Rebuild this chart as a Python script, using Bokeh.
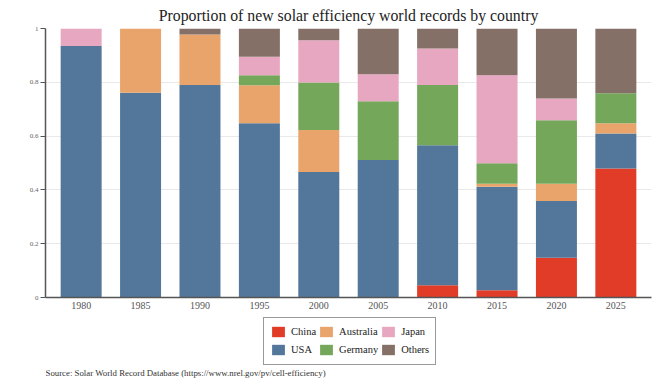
from bokeh.plotting import figure
from bokeh.layouts import column
from bokeh.models import (FactorRange, Legend, LegendItem, Label, FixedTicker,
                          NumeralTickFormatter, ColumnDataSource)
from bokeh.embed import file_html
from bokeh.resources import INLINE

years = ["1980", "1985", "1990", "1995", "2000", "2005", "2010", "2015", "2020", "2025"]
china     = [0.0,   0.0,   0.0,   0.0,   0.0,   0.0,   0.046, 0.027, 0.148, 0.480]
usa       = [0.935, 0.761, 0.790, 0.648, 0.467, 0.511, 0.520, 0.385, 0.211, 0.130]
australia = [0.0,   0.239, 0.188, 0.141, 0.156, 0.0,   0.0,   0.011, 0.064, 0.038]
germany   = [0.0,   0.0,   0.0,   0.037, 0.176, 0.219, 0.224, 0.076, 0.236, 0.111]
japan     = [0.065, 0.0,   0.0,   0.069, 0.157, 0.100, 0.136, 0.327, 0.081, 0.0]
others    = [0.0,   0.0,   0.022, 0.105, 0.044, 0.170, 0.074, 0.174, 0.260, 0.241]

series = ["China", "USA", "Australia", "Germany", "Japan", "Others"]
colors = ["#e03c28", "#53779b", "#e8a46a", "#74a75a", "#e7a7c1", "#857067"]
y_ticks = [0, 0.2, 0.4, 0.6, 0.8, 1.0]

title_text = "Proportion of new solar efficiency world records by country"
source_text = "Source: Solar World Record Database (https://www.nrel.gov/pv/cell-efficiency)"

SERIF = "Liberation Serif"

src = ColumnDataSource(dict(year=years, China=china, USA=usa, Australia=australia,
                            Germany=germany, Japan=japan, Others=others))

# ---------------- main chart ----------------
p = figure(width=664, height=314, output_backend="svg", toolbar_location=None,
           x_range=FactorRange(factors=years, range_padding=0.1, range_padding_units="absolute"),
           y_range=(0, 1),
           min_border_left=45, min_border_right=13, min_border_top=28, min_border_bottom=17)
p.outline_line_color = None

p.vbar_stack(series, x="year", width=0.69, color=colors, line_color=None, source=src)

p.title.text = title_text
p.title.text_font = SERIF
p.title.text_font_size = "15.8px"
p.title.text_font_style = "normal"
p.title.text_color = "#222222"
p.title.align = "center"
p.title.standoff = 9

p.xgrid.grid_line_color = None
p.ygrid.grid_line_color = "#e9e9e9"
p.ygrid.grid_line_width = 1

p.yaxis.ticker = FixedTicker(ticks=y_ticks)
p.yaxis.formatter = NumeralTickFormatter(format="0.[0]")
p.yaxis.axis_line_color = "#555555"
p.yaxis.axis_line_width = 1.5
p.yaxis.major_tick_line_color = "#555555"
p.yaxis.major_tick_out = 5
p.yaxis.major_tick_in = 0
p.yaxis.minor_tick_line_color = None
p.yaxis.major_label_text_font = SERIF
p.yaxis.major_label_text_font_size = "7px"
p.yaxis.major_label_text_color = "#666666"
p.yaxis.major_label_standoff = 2

p.xaxis.axis_line_color = "#555555"
p.xaxis.axis_line_width = 1.5
p.xaxis.major_tick_line_color = None
p.xaxis.major_tick_out = 0
p.xaxis.major_tick_in = 0
p.xaxis.major_label_text_font = SERIF
p.xaxis.major_label_text_font_size = "10px"
p.xaxis.major_label_text_color = "#555555"
p.xaxis.major_label_standoff = 4

# ---------------- legend + source strip ----------------
# (frame of this strip is aligned with the main chart's frame: left edge at x=45)
q = figure(width=664, height=70, output_backend="svg", toolbar_location=None,
           x_range=(0, 1), y_range=(0, 1), x_axis_type=None, y_axis_type=None,
           min_border=0)
q.outline_line_color = None
q.xgrid.grid_line_color = None
q.ygrid.grid_line_color = None

# zero-height proxies, only used to draw the legend swatches
swatches = {name: q.vbar(x=[0.5], top=[0], bottom=[0], width=0.001, color=c, line_color=None)
            for name, c in zip(series, colors)}

order = ["China", "Australia", "Japan", "USA", "Germany", "Others"]
items = [LegendItem(label=name, renderers=[swatches[name]]) for name in order]
legend = Legend(items=items, location=(218, 19.5), orientation="horizontal", ncols=3,
                glyph_width=16, glyph_height=13, label_height=16, label_standoff=5,
                spacing=2, padding=6, margin=0,
                label_text_font=SERIF, label_text_font_size="10.5px", label_text_color="#222222",
                border_line_color="#333333", border_line_width=1.5,
                background_fill_color="white", background_fill_alpha=1)
q.add_layout(legend, "center")

q.add_layout(Label(x=0, y=11.3, x_units="screen", y_units="screen", text=source_text,
                   text_font=SERIF, text_font_size="8.8px", text_color="#333333",
                   text_align="left", text_baseline="middle"))

layout = column(p, q, spacing=0)
open("out.html", "w").write(file_html(layout, INLINE))
